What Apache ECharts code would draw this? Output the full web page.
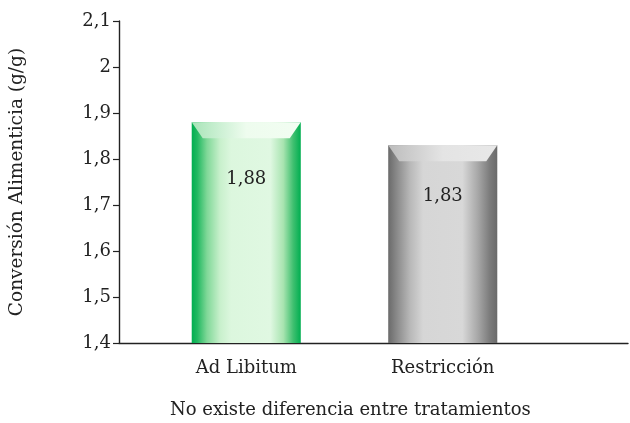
<!DOCTYPE html>
<html>
<head>
<meta charset="utf-8">
<script src="https://cdn.jsdelivr.net/npm/echarts@6/dist/echarts.min.js"></script>
<style>
  html, body { margin: 0; padding: 0; background: #fff; }
  #chart { width: 630px; height: 423px; }
</style>
</head>
<body>
<div id="chart"></div>
<script>
// Feed conversion per treatment
const categories = ['Ad Libitum', 'Restricción'];
const conversion = [1.88, 1.83];
const yTicks = [1.4, 1.5, 1.6, 1.7, 1.8, 1.9, 2.0, 2.1];

const FONT = 'DejaVu Serif';
const Y_MIN = yTicks[0];
const Y_MAX = yTicks[yTicks.length - 1];

const fmt = v => String(Number(v.toFixed(2))).replace('.', ',');

function bodyGradient(i) {
  const g = echarts.graphic.LinearGradient;
  if (i === 0) {
    return new g(0, 0, 1, 0, [
      { offset: 0, color: '#00ae50' },
      { offset: 0.05, color: '#20b860' },
      { offset: 0.14, color: '#80d898' },
      { offset: 0.26, color: '#c8f0cc' },
      { offset: 0.36, color: '#dcf7de' },
      { offset: 0.72, color: '#e0f8e2' },
      { offset: 0.84, color: '#a8e4b0' },
      { offset: 0.93, color: '#40c070' },
      { offset: 1, color: '#00ae50' }
    ]);
  }
  return new g(0, 0, 1, 0, [
    { offset: 0, color: '#6a6a6a' },
    { offset: 0.08, color: '#8a8a8a' },
    { offset: 0.2, color: '#b8b8b8' },
    { offset: 0.32, color: '#d6d6d6' },
    { offset: 0.68, color: '#d8d8d8' },
    { offset: 0.82, color: '#a8a8a8' },
    { offset: 0.93, color: '#7c7c7c' },
    { offset: 1, color: '#6a6a6a' }
  ]);
}

function bevelGradient(i) {
  const g = echarts.graphic.LinearGradient;
  if (i === 0) {
    return new g(0, 0, 1, 0, [
      { offset: 0, color: '#a8e4b8' },
      { offset: 0.5, color: '#eefcee' },
      { offset: 1, color: '#f2fdf2' }
    ]);
  }
  return new g(0, 0, 1, 0, [
    { offset: 0, color: '#bcbcbc' },
    { offset: 0.5, color: '#e4e4e4' },
    { offset: 1, color: '#e8e8e8' }
  ]);
}

function renderBar(params, api) {
  const i = params.dataIndex;
  const v = api.value(1);
  const top = api.coord([api.value(0), v]);
  const base = api.coord([api.value(0), Y_MIN]);
  const w = api.size([1, 0])[0] * 0.555;
  const x0 = top[0] - w / 2;
  const h = base[1] - top[1];
  const inset = 11, bh = 16;
  return {
    type: 'group',
    children: [
      { type: 'rect', shape: { x: x0, y: top[1], width: w, height: h },
        style: { fill: bodyGradient(i) } },
      { type: 'polygon',
        shape: { points: [[x0, top[1]], [x0 + w, top[1]], [x0 + w - inset, top[1] + bh], [x0 + inset, top[1] + bh]] },
        style: { fill: bevelGradient(i) } },
      { type: 'text',
        style: { x: top[0], y: top[1] + h * 0.26, text: fmt(v), align: 'center', verticalAlign: 'middle',
                 font: '18px "' + FONT + '"', fill: '#222' } }
    ]
  };
}

const chart = echarts.init(document.getElementById('chart'), null, { renderer: 'canvas' });
chart.setOption({
  animation: false,
  backgroundColor: '#fff',
  textStyle: { fontFamily: FONT },
  grid: [
    { left: 117, right: 2, top: 21, bottom: 80 },
    { left: 148, right: 89, top: 21, bottom: 80 }
  ],
  xAxis: [
    { gridIndex: 0, type: 'category', data: [''], axisLine: { lineStyle: { color: '#222', width: 1.4 } },
      axisTick: { show: false }, axisLabel: { show: false } },
    { gridIndex: 1, type: 'category', data: categories,
      axisLine: { show: false }, axisTick: { show: false },
      axisLabel: { color: '#222', fontSize: 18, fontFamily: FONT, margin: 16 } }
  ],
  yAxis: [
    { gridIndex: 0, type: 'value', min: Y_MIN, max: Y_MAX, interval: 0.1,
      axisLine: { show: true, lineStyle: { color: '#222', width: 1.4 } },
      axisTick: { show: true, length: 6, lineStyle: { color: '#222', width: 1.2 } },
      splitLine: { show: false },
      axisLabel: { color: '#222', fontSize: 18, fontFamily: FONT, margin: 8, formatter: fmt },
      name: 'Conversión Alimenticia (g/g)', nameLocation: 'middle', nameGap: 92,
      nameTextStyle: { color: '#222', fontSize: 18.5, fontFamily: FONT } },
    { gridIndex: 1, type: 'value', min: Y_MIN, max: Y_MAX, show: false }
  ],
  graphic: [
    { type: 'text', left: 170, top: 401,
      style: { text: 'No existe diferencia entre tratamientos', font: '18px "' + FONT + '"', fill: '#222' } }
  ],
  series: [
    { type: 'custom', xAxisIndex: 1, yAxisIndex: 1,
      data: conversion.map((v, i) => [i, v]),
      renderItem: renderBar }
  ]
});
</script>
</body>
</html>
